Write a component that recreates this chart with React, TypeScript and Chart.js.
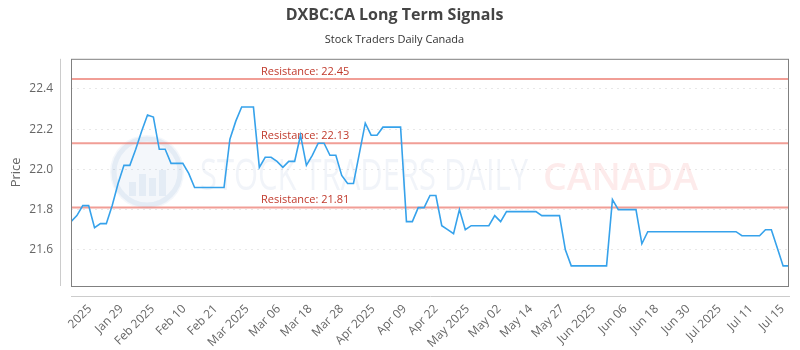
import React, { useEffect, useRef } from "react";
import { Chart, registerables } from "chart.js";

Chart.register(...registerables);

const chartTitle = "DXBC:CA Long Term Signals";
const chartSubtitle = "Stock Traders Daily Canada";

// Daily closing prices (one per trading session)
const prices = [
  21.74, 21.77, 21.82, 21.82, 21.71, 21.73, 21.73, 21.82, 21.93, 22.02,
  22.02, 22.10, 22.19, 22.27, 22.26, 22.10, 22.10, 22.03, 22.03, 22.03,
  21.98, 21.91, 21.91, 21.91, 21.91, 21.91, 21.91, 22.15, 22.24, 22.31,
  22.31, 22.31, 22.01, 22.06, 22.06, 22.04, 22.01, 22.04, 22.04, 22.17,
  22.02, 22.07, 22.13, 22.13, 22.07, 22.07, 21.97, 21.93, 21.93, 22.08,
  22.23, 22.17, 22.17, 22.21, 22.21, 22.21, 22.21, 21.74, 21.74, 21.81,
  21.81, 21.87, 21.87, 21.72, 21.70, 21.68, 21.80, 21.70, 21.72, 21.72,
  21.72, 21.72, 21.77, 21.74, 21.79, 21.79, 21.79, 21.79, 21.79, 21.79,
  21.77, 21.77, 21.77, 21.77, 21.60, 21.52, 21.52, 21.52, 21.52, 21.52,
  21.52, 21.52, 21.85, 21.80, 21.80, 21.80, 21.80, 21.63, 21.69, 21.69,
  21.69, 21.69, 21.69, 21.69, 21.69, 21.69, 21.69, 21.69, 21.69, 21.69,
  21.69, 21.69, 21.69, 21.69, 21.67, 21.67, 21.67, 21.67, 21.70, 21.70,
  21.61, 21.52, 21.52,
];

const xTickLabels = [
  "2025", "Jan 29", "Feb 2025", "Feb 10", "Feb 21", "Mar 2025", "Mar 06",
  "Mar 18", "Mar 28", "Apr 2025", "Apr 09", "Apr 22", "May 2025", "May 02",
  "May 14", "May 27", "Jun 2025", "Jun 06", "Jun 18", "Jun 30", "Jul 2025",
  "Jul 11", "Jul 15",
];

// Tick positions in session-index units
const xTickPositions = [
  3.2, 8.55, 13.9, 19.25, 24.6, 29.95, 35.3, 40.65, 46.0, 51.35, 56.7,
  62.05, 67.4, 72.75, 78.1, 83.45, 88.8, 94.15, 99.5, 104.85, 110.2,
  115.55, 120.9,
];

const yTickValues = [21.6, 21.8, 22.0, 22.2, 22.4];
const yMin = 21.42;
const yMax = 22.55;

const resistanceLevels = [22.45, 22.13, 21.81];

const overlayPlugin = {
  id: "overlay",
  beforeDatasetsDraw(chart: any) {
    const { ctx, chartArea: a, scales } = chart;
    ctx.save();
    ctx.beginPath();
    ctx.rect(a.left, a.top, a.right - a.left, a.bottom - a.top);
    ctx.clip();

    // watermark logo
    const cx = 147;
    const cy = 172;
    ctx.fillStyle = "rgba(70,120,180,0.06)";
    ctx.beginPath();
    ctx.arc(cx, cy, 37, 0, Math.PI * 2);
    ctx.fill();
    ctx.strokeStyle = "rgba(70,120,180,0.09)";
    ctx.lineWidth = 5;
    ctx.beginPath();
    ctx.arc(cx, cy, 33, 0, Math.PI * 2);
    ctx.stroke();
    ctx.fillStyle = "rgba(70,120,180,0.09)";
    const bars = [[-18, 14], [-8, 22], [2, 18], [12, 26]];
    bars.forEach(([dx, h]) => {
      ctx.fillRect(cx + dx, cy + 24 - h, 7, h);
    });

    // watermark text
    ctx.textBaseline = "middle";
    ctx.textAlign = "left";
    ctx.font = '500 44px "Open Sans"';
    ctx.fillStyle = "rgba(70,110,170,0.075)";
    ctx.fillText("STOCK TRADERS DAILY", 200, 177, 328);
    ctx.font = '600 38px "Open Sans"';
    ctx.fillStyle = "rgba(240,70,70,0.11)";
    ctx.fillText("CANADA", 543, 179, 155);
    ctx.restore();

    // resistance lines with labels
    ctx.save();
    resistanceLevels.forEach((level) => {
      const y = scales.y.getPixelForValue(level);
      ctx.strokeStyle = "rgba(235,120,110,0.72)";
      ctx.lineWidth = 2;
      ctx.beginPath();
      ctx.moveTo(a.left, y);
      ctx.lineTo(a.right, y);
      ctx.stroke();
      ctx.fillStyle = "#c0392b";
      ctx.font = '11px "Open Sans"';
      ctx.textAlign = "left";
      ctx.textBaseline = "bottom";
      ctx.fillText("Resistance: " + level.toFixed(2), a.left + 190, y - 2);
    });
    ctx.restore();
  },
  afterDatasetsDraw(chart: any) {
    const { ctx, chartArea: a } = chart;
    ctx.save();
    // chart area frame
    ctx.strokeStyle = "#808080";
    ctx.lineWidth = 1;
    ctx.strokeRect(a.left + 0.5, a.top + 0.5, a.right - a.left - 1, a.bottom - a.top);
    // detached axis lines
    ctx.strokeStyle = "#cccccc";
    ctx.beginPath();
    ctx.moveTo(a.left - 10.5, a.top);
    ctx.lineTo(a.left - 10.5, a.bottom);
    ctx.moveTo(a.left, a.bottom + 10.5);
    ctx.lineTo(a.right + 1, a.bottom + 10.5);
    ctx.stroke();
    ctx.restore();
  },
};

export default function App() {
  const canvasRef = useRef<HTMLCanvasElement | null>(null);

  useEffect(() => {
    if (!canvasRef.current) return;
    const points = prices.map((v, i) => ({ x: i, y: v }));
    const chart = new Chart(canvasRef.current, {
      type: "line",
      data: {
        datasets: [
          {
            data: points,
            borderColor: "#36a2eb",
            borderWidth: 1.6,
            pointRadius: 0,
            tension: 0,
            fill: false,
          },
        ],
      },
      options: {
        animation: false,
        responsive: false,
        devicePixelRatio: 1,
        layout: { padding: { left: 0, right: 11, top: 0, bottom: 0 } },
        plugins: {
          legend: { display: false },
          tooltip: { enabled: false },
          title: {
            display: true,
            text: chartTitle,
            color: "#444",
            font: { family: "Open Sans", size: 16, weight: "bold" },
            padding: { top: 5.4, bottom: 4 },
          },
          subtitle: {
            display: true,
            text: chartSubtitle,
            color: "#333",
            font: { family: "Open Sans", size: 11 },
            padding: { top: 5, bottom: 12 },
          },
        },
        scales: {
          x: {
            type: "linear",
            min: 0,
            max: prices.length - 1,
            afterBuildTicks: (s: any) => {
              s.ticks = xTickPositions.map((v) => ({ value: v }));
            },
            afterFit: (s: any) => {
              s.height = 64;
              s.paddingLeft = 0;
              s.paddingRight = 0;
            },
            grid: { display: false, drawTicks: false },
            border: { display: false },
            ticks: {
              autoSkip: false,
              minRotation: 45,
              maxRotation: 45,
              padding: 16,
              color: "#666",
              font: { family: "Open Sans", size: 12 },
              callback: (_v: any, i: number) => xTickLabels[i],
            },
          },
          y: {
            type: "linear",
            min: yMin,
            max: yMax,
            afterBuildTicks: (s: any) => {
              s.ticks = yTickValues.map((v) => ({ value: v }));
            },
            afterFit: (s: any) => {
              s.width = 71;
            },
            grid: { color: "rgba(0,0,0,0.09)", drawTicks: false },
            border: { display: false, dash: [2, 4] },
            ticks: {
              padding: 18,
              color: "#666",
              font: { family: "Open Sans", size: 12 },
              callback: (v: any) => Number(v).toFixed(1),
            },
            title: {
              display: true,
              text: "Price",
              color: "#666",
              font: { family: "Open Sans", size: 13 },
              padding: { top: 8, bottom: 0 },
            },
          },
        },
      },
      plugins: [overlayPlugin],
    });
    return () => chart.destroy();
  }, []);

  return (
    <div style={{ position: "absolute", left: 0, top: 0, width: 800, height: 350 }}>
      <canvas ref={canvasRef} width={800} height={350} style={{ width: 800, height: 350 }} />
    </div>
  );
}
